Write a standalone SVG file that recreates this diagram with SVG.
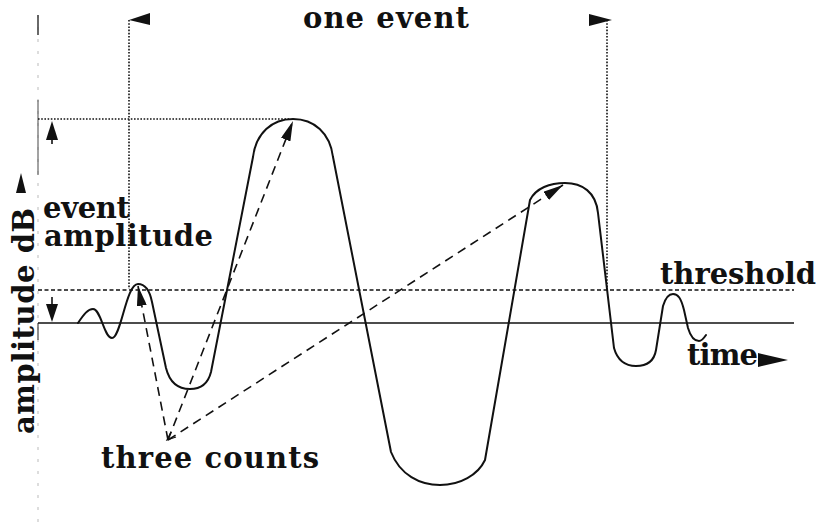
<svg xmlns="http://www.w3.org/2000/svg" width="824" height="532" viewBox="0 0 824 532">
<style>
.lbl{font-family:"DejaVu Serif","Liberation Serif",serif;font-weight:bold;font-size:29px;fill:#111}
.wave{fill:none;stroke:#111;stroke-width:2;stroke-linejoin:round;stroke-linecap:round}
.dot{fill:none;stroke:#111;stroke-width:1.6;stroke-dasharray:1.6 1.6}
.thr{fill:none;stroke:#111;stroke-width:1.5;stroke-dasharray:4 2.5}
.base{fill:none;stroke:#111;stroke-width:1.4}
.cnt{fill:none;stroke:#111;stroke-width:1.6;stroke-dasharray:9 6}
.head{fill:#111}
</style>
<defs>
<marker id="ah" viewBox="0 0 20 10" refX="20" refY="5" markerWidth="20" markerHeight="10" markerUnits="userSpaceOnUse" orient="auto">
<path d="M0,0 L20,5 L0,10 z" fill="#111"/>
</marker>
</defs>
<rect width="824" height="532" fill="#fff"/>

<g id="y-axis">
<line x1="38" y1="15" x2="38" y2="530" stroke="#bbb" stroke-width="1" stroke-dasharray="3 9"/>
<line x1="38" y1="15" x2="38" y2="35" stroke="#444" stroke-width="1.6"/>
<line x1="38" y1="100" x2="38" y2="175" stroke="#666" stroke-width="1.2"/>
<line x1="38" y1="323" x2="38" y2="340" stroke="#444" stroke-width="1.2"/>
<text class="lbl" transform="translate(34,434) rotate(-90)" x="0" y="0" textLength="226" lengthAdjust="spacing">amplitude dB</text>
<polygon class="head" points="21,173 16,193 26,193"/>
</g>

<g id="reference-lines">
<line class="base" x1="38" y1="323" x2="794" y2="323"/>
<line class="thr" x1="38" y1="290" x2="794" y2="290"/>
<line class="dot" x1="38" y1="119" x2="290" y2="119"/>
<line class="dot" x1="129" y1="20" x2="129" y2="289"/>
<line class="dot" x1="607" y1="20" x2="607" y2="289"/>
</g>

<g id="one-event">
<polygon class="head" points="129,20 150,13 150,25"/>
<polygon class="head" points="612,20 589,14 589,26"/>
<text class="lbl" x="303" y="28" textLength="166" lengthAdjust="spacing">one event</text>
</g>

<g id="event-amplitude">
<line x1="52" y1="138" x2="52" y2="144" stroke="#111" stroke-width="1.6"/>
<polygon class="head" points="52,121 46,140 58,140"/>
<line x1="52" y1="297" x2="52" y2="305" stroke="#111" stroke-width="1.6"/>
<polygon class="head" points="52,322 46,304 58,304"/>
<text class="lbl" x="43" y="218" textLength="87" lengthAdjust="spacing">event</text>
<text class="lbl" x="44" y="246" textLength="169" lengthAdjust="spacing">amplitude</text>
</g>

<g id="waveform">
<path class="wave" d="M78,323 C84,314 88,309 93,309 C101,309 104,338 112,338 C121,338 126,284 138,284 C146,284 150,292 152,302 L166,368 C170,384 180,389 190,389 C200,389 208,384 211,372 L253,157 C256,133 272,119 293,119 C314,119 330,133 333,157 L391,452 C400,475 420,485 440,485 C460,485 478,475 485,460 L530,200 C536,188 550,183 565,183 C582,183 596,192 598,213 L614,348 C618,362 627,366 636,366 C646,366 654,362 656,350 L663,306 C666,296 670,294 673,294 C678,294 681,298 684,310 L688,328 C691,338 695,341 699,341 C702,341 704,338 706,335"/>
</g>

<g id="threshold-label">
<text class="lbl" x="660" y="284" textLength="156" lengthAdjust="spacing">threshold</text>
</g>

<g id="time-label">
<text class="lbl" x="687" y="365" textLength="71" lengthAdjust="spacing">time</text>
<polygon class="head" points="788,360 758,353 758,367"/>
</g>

<g id="connectors">
<line class="cnt" x1="168" y1="440" x2="138" y2="286" marker-end="url(#ah)"/>
<line class="cnt" x1="168" y1="440" x2="293" y2="121" marker-end="url(#ah)"/>
<line class="cnt" x1="168" y1="440" x2="563" y2="185" marker-end="url(#ah)"/>
<polyline points="171,432 167,440 176,437" fill="none" stroke="#111" stroke-width="1.2"/>
</g>

<g id="three-counts">
<text class="lbl" x="101" y="468" textLength="218" lengthAdjust="spacing">three counts</text>
</g>
</svg>
